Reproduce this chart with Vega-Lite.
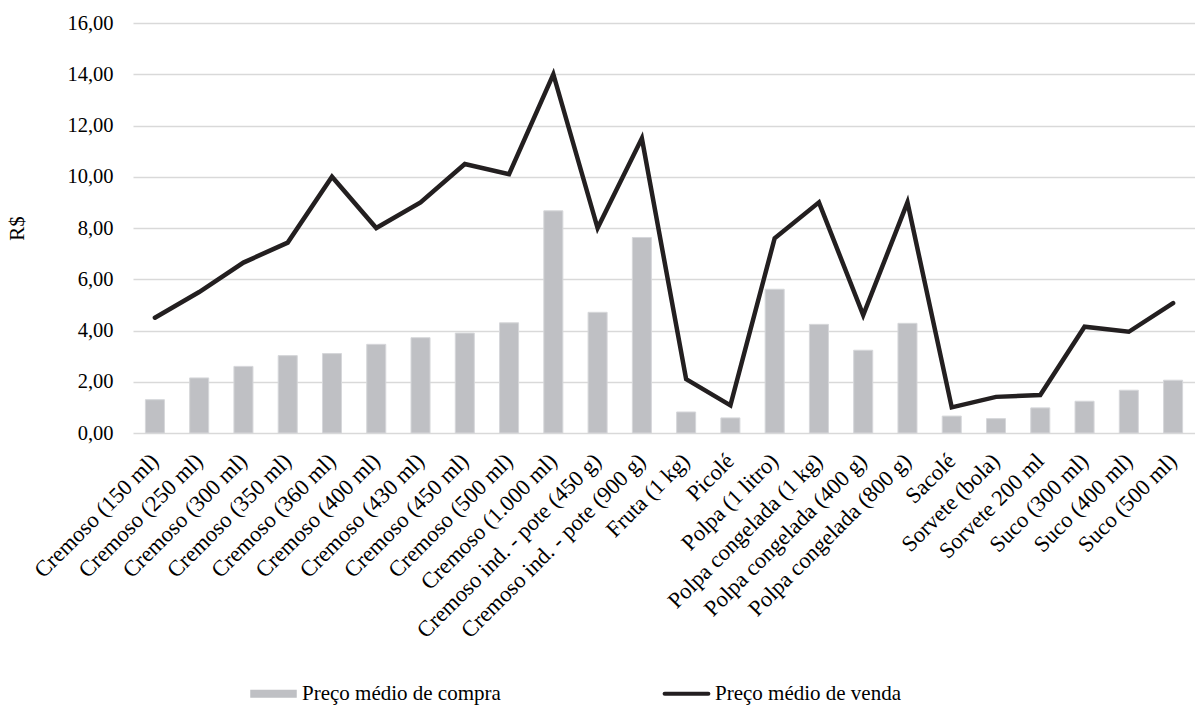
{
  "$schema": "https://vega.github.io/schema/vega-lite/v6.json",
  "autosize": {"type": "none"},
  "padding": {"left": 133, "top": 23, "right": 0, "bottom": 273},
  "width": 1062,
  "height": 410,
  "background": "white",
  "data": {"values": [
    {"produto": "Cremoso (150 ml)", "Preço médio de compra": 1.30, "Preço médio de venda": 4.50},
    {"produto": "Cremoso (250 ml)", "Preço médio de compra": 2.15, "Preço médio de venda": 5.50},
    {"produto": "Cremoso (300 ml)", "Preço médio de compra": 2.60, "Preço médio de venda": 6.65},
    {"produto": "Cremoso (350 ml)", "Preço médio de compra": 3.02, "Preço médio de venda": 7.43},
    {"produto": "Cremoso (360 ml)", "Preço médio de compra": 3.10, "Preço médio de venda": 10.00},
    {"produto": "Cremoso (400 ml)", "Preço médio de compra": 3.46, "Preço médio de venda": 8.00},
    {"produto": "Cremoso (430 ml)", "Preço médio de compra": 3.72, "Preço médio de venda": 9.00},
    {"produto": "Cremoso (450 ml)", "Preço médio de compra": 3.90, "Preço médio de venda": 10.50},
    {"produto": "Cremoso (500 ml)", "Preço médio de compra": 4.30, "Preço médio de venda": 10.10},
    {"produto": "Cremoso (1.000 ml)", "Preço médio de compra": 8.67, "Preço médio de venda": 14.00},
    {"produto": "Cremoso ind. - pote (450 g)", "Preço médio de compra": 4.71, "Preço médio de venda": 8.00},
    {"produto": "Cremoso ind. - pote (900 g)", "Preço médio de compra": 7.63, "Preço médio de venda": 11.50},
    {"produto": "Fruta (1 kg)", "Preço médio de compra": 0.82, "Preço médio de venda": 2.10},
    {"produto": "Picolé", "Preço médio de compra": 0.59, "Preço médio de venda": 1.08},
    {"produto": "Polpa (1 litro)", "Preço médio de compra": 5.61, "Preço médio de venda": 7.60},
    {"produto": "Polpa congelada (1 kg)", "Preço médio de compra": 4.24, "Preço médio de venda": 9.00},
    {"produto": "Polpa congelada (400 g)", "Preço médio de compra": 3.23, "Preço médio de venda": 4.60},
    {"produto": "Polpa congelada (800 g)", "Preço médio de compra": 4.28, "Preço médio de venda": 9.00},
    {"produto": "Sacolé", "Preço médio de compra": 0.66, "Preço médio de venda": 1.00},
    {"produto": "Sorvete (bola)", "Preço médio de compra": 0.56, "Preço médio de venda": 1.41},
    {"produto": "Sorvete 200 ml", "Preço médio de compra": 0.98, "Preço médio de venda": 1.48},
    {"produto": "Suco (300 ml)", "Preço médio de compra": 1.24, "Preço médio de venda": 4.15},
    {"produto": "Suco (400 ml)", "Preço médio de compra": 1.67, "Preço médio de venda": 3.95},
    {"produto": "Suco (500 ml)", "Preço médio de compra": 2.06, "Preço médio de venda": 5.07}
  ]},
  "transform": [
    {"fold": ["Preço médio de compra", "Preço médio de venda"], "as": ["serie", "valor"]}
  ],
  "encoding": {
    "x": {
      "field": "produto", "type": "nominal", "sort": null,
      "scale": {"paddingInner": 0.57, "paddingOuter": 0.28},
      "axis": {
        "title": null, "labelAngle": -45, "labelAlign": "right", "labelBaseline": "middle",
        "labelPadding": 24, "labelOffset": 0, "ticks": false, "domain": false, "grid": false,
        "labelFont": "Liberation Serif", "labelFontSize": 22.5, "labelColor": "#000000", "labelLimit": 400
      }
    },
    "y": {
      "field": "valor", "type": "quantitative",
      "scale": {"domain": [0, 16], "nice": false},
      "axis": {
        "values": [0, 2, 4, 6, 8, 10, 12, 14, 16],
        "labelExpr": "replace(format(datum.value, '.2f'), '.', ',')",
        "title": "R$", "titleFont": "Liberation Serif", "titleFontSize": 21, "titleFontWeight": "normal",
        "titleColor": "#000000", "titlePadding": 39,
        "labelFont": "Liberation Serif", "labelFontSize": 20.5, "labelColor": "#000000", "labelPadding": 20,
        "ticks": false, "domain": false, "grid": true, "gridColor": "#d9d9d9", "gridWidth": 1.3
      }
    },
    "color": {
      "field": "serie", "type": "nominal",
      "scale": {"domain": ["Preço médio de compra", "Preço médio de venda"], "range": ["#bfc0c4", "#231f20"]},
      "legend": {
        "title": null, "orient": "none", "direction": "horizontal",
        "legendX": 117, "legendY": 647,
        "labelFont": "Liberation Serif", "labelFontSize": 21, "labelColor": "#000000", "labelLimit": 400,
        "labelOffset": 5, "columnPadding": 159, "symbolSize": 2025,
        "encode": {"symbols": {"update": {
          "shape": {"signal": "datum.value === 'Preço médio de compra' ? 'M-1,-0.14H1V0.14H-1Z' : 'M-0.97,-0.06H0.97A0.06,0.06 0 0 1 0.97,0.06H-0.97A0.06,0.06 0 0 1 -0.97,-0.06Z'"},
          "fill": {"signal": "datum.value === 'Preço médio de compra' ? '#bfc0c4' : '#231f20'"},
          "stroke": {"value": "transparent"},
          "opacity": {"value": 1}
        }}}
      }
    }
  },
  "layer": [
    {
      "transform": [{"filter": "datum.serie === 'Preço médio de compra'"}],
      "mark": {"type": "bar", "stroke": "#d6d7da", "strokeWidth": 1}
    },
    {
      "transform": [{"filter": "datum.serie === 'Preço médio de venda'"}],
      "mark": {"type": "line", "strokeWidth": 4.5, "strokeJoin": "miter", "strokeCap": "round"}
    }
  ],
  "config": {"view": {"stroke": null}}
}
